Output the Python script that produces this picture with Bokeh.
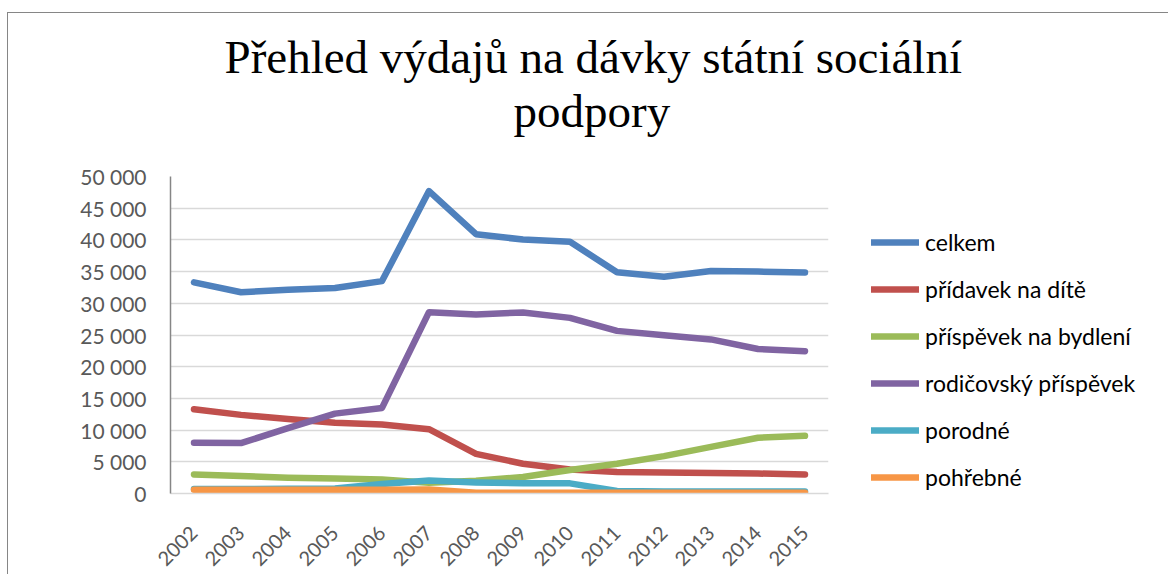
import math
from bokeh.plotting import figure
from bokeh.models import (FactorRange, Range1d, FixedTicker, Legend, LegendItem, Title)
from bokeh.embed import file_html
from bokeh.resources import INLINE

# ---- data ----
years = ["2002", "2003", "2004", "2005", "2006", "2007", "2008",
         "2009", "2010", "2011", "2012", "2013", "2014", "2015"]
celkem = [33300, 31750, 32150, 32400, 33500, 47700, 40900,
          40050, 39700, 34900, 34200, 35100, 35000, 34850]
pridavek = [13300, 12400, 11750, 11150, 10900, 10150, 6250,
            4700, 3800, 3400, 3300, 3250, 3150, 3000]
bydleni = [3000, 2750, 2500, 2350, 2200, 1700, 2000,
           2600, 3700, 4700, 5900, 7350, 8800, 9100]
rodicovsky = [8000, 7950, 10300, 12600, 13500, 28600, 28250,
              28550, 27700, 25650, 24950, 24300, 22800, 22450]
porodne = [700, 720, 740, 800, 1500, 2050, 1750,
           1600, 1600, 400, 300, 300, 300, 300]
pohrebne = [600, 600, 600, 600, 600, 620, 100,
            100, 100, 100, 100, 100, 100, 100]
series_names = ["celkem", "přídavek na dítě", "příspěvek na bydlení",
                "rodičovský příspěvek", "porodné", "pohřebné"]
series_values = [celkem, pridavek, bydleni, rodicovsky, porodne, pohrebne]
colors = ["#4F81BD", "#C0504D", "#9BBB59", "#8064A2", "#4BACC6", "#F79646"]
yticks = [0, 5000, 10000, 15000, 20000, 25000, 30000, 35000, 40000, 45000, 50000]
ytick_labels = ["0", "5 000", "10 000", "15 000", "20 000", "25 000",
                "30 000", "35 000", "40 000", "45 000", "50 000"]
title_lines = ["Přehled výdajů na dávky státní sociální", "podpory"]

# canvas placed at page (8, 13) by the styles below
FL, FT = 162, 163
FW, FH = 658, 317

p = figure(frame_width=FW, frame_height=FH,
           x_range=FactorRange(factors=years, range_padding=0),
           y_range=Range1d(0, 50000), output_backend="svg", toolbar_location=None,
           min_border_left=FL, min_border_right=330, min_border_top=FT,
           min_border_bottom=10,
           styles={"margin-left": "7px", "margin-top": "12px",
                   "border-left": "1px solid #868686",
                   "border-top": "1px solid #868686"})
p.outline_line_color = None
p.background_fill_color = "white"
p.border_fill_color = "white"

renderers = []
for name, vals, col in zip(series_names, series_values, colors):
    r = p.line(years, vals, line_color=col, line_width=6.5, line_cap="round",
               line_join="round")
    renderers.append(r)

# axes
p.yaxis.ticker = FixedTicker(ticks=yticks)
p.yaxis.major_label_overrides = {t: l for t, l in zip(yticks, ytick_labels)}
p.yaxis.axis_line_color = "#868686"
p.yaxis.axis_line_width = 1.5
p.yaxis.major_tick_line_color = None
p.yaxis.minor_tick_line_color = None
p.yaxis.major_label_standoff = 18
p.yaxis.major_label_text_font = "Lato"
p.yaxis.major_label_text_font_size = "21px"
p.yaxis.major_label_text_color = "#595959"

p.xaxis.axis_line_color = "#D9D9D9"
p.xaxis.axis_line_width = 1.5
p.xaxis.major_tick_line_color = None
p.xaxis.minor_tick_line_color = None
p.xaxis.major_label_orientation = math.pi / 4
p.xaxis.major_label_standoff = 30
p.xaxis.major_label_text_font = "Lato"
p.xaxis.major_label_text_font_size = "20px"
p.xaxis.major_label_text_color = "#595959"

p.xgrid.grid_line_color = None
p.ygrid.grid_line_color = "#D9D9D9"
p.ygrid.grid_line_width = 1.5

# legend (right panel)
items = [LegendItem(label=n, renderers=[r]) for n, r in zip(series_names, renderers)]
legend = Legend(items=items, location=(43, 1), glyph_width=48, glyph_height=30,
                label_height=30, spacing=17, label_standoff=6, padding=0, margin=0,
                border_line_color=None, background_fill_alpha=0,
                label_text_font="Lato", label_text_font_size="23px",
                label_text_color="black")
p.add_layout(legend, "right")

# title: a spacer slot next to the frame, then the two title lines
p.add_layout(Title(text=" ", align="left", standoff=37, text_font_size="1px"), "above")
p.add_layout(Title(text=title_lines[1], align="left", offset=343, standoff=0,
                   text_line_height=0.75,
                   text_font="Liberation Serif", text_font_size="47px",
                   text_font_style="normal", text_color="black"), "above")
p.add_layout(Title(text=title_lines[0], align="left", offset=54, standoff=0,
                   text_line_height=0.75,
                   text_font="Liberation Serif", text_font_size="47px",
                   text_font_style="normal", text_color="black"), "above")

open("out.html", "w").write(file_html(p, INLINE))
